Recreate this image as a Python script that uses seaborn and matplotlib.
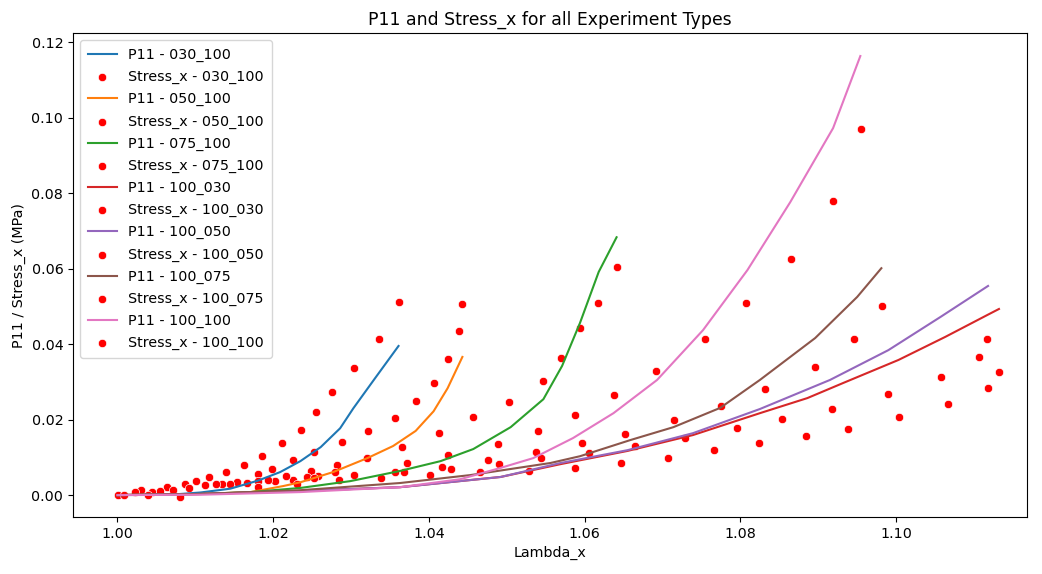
import matplotlib
matplotlib.use("Agg")
import matplotlib.pyplot as plt
import seaborn as sns

experiments = ["030_100", "050_100", "075_100", "100_030", "100_050", "100_075", "100_100"]

# ---- P11 model curves: stretch (Lambda_x) and P11 (MPa) ----
lam_p11_030_100 = [1.0, 1.0068, 1.0107, 1.0145, 1.0180, 1.0209, 1.0235, 1.0261, 1.0286, 1.0303, 1.0331, 1.0361]
p11_030_100 = [0.0, 0.0001, 0.0007, 0.0017, 0.0038, 0.0061, 0.0090, 0.0127, 0.0177, 0.0230, 0.0310, 0.0395]

lam_p11_050_100 = [1.0, 1.0107, 1.0171, 1.0213, 1.0235, 1.0277, 1.0321, 1.0354, 1.0383, 1.0406, 1.0424, 1.0443]
p11_050_100 = [0.0, 0.0003, 0.0008, 0.0024, 0.0034, 0.0061, 0.0098, 0.0130, 0.0170, 0.0222, 0.0283, 0.0366]

lam_p11_075_100 = [1.0, 1.0107, 1.0171, 1.0235, 1.0299, 1.0363, 1.0415, 1.0457, 1.0505, 1.0547, 1.0571, 1.0594, 1.0618, 1.0641]
p11_075_100 = [0.0, 0.0003, 0.0008, 0.0019, 0.0037, 0.0064, 0.0090, 0.0122, 0.0180, 0.0254, 0.0342, 0.0456, 0.0591, 0.0683]

lam_p11_100_030 = [1.0, 1.0107, 1.0235, 1.0363, 1.0492, 1.0569, 1.0655, 1.0739, 1.0825, 1.0886, 1.0932, 1.1003, 1.1063, 1.1117, 1.1132]
p11_100_030 = [0.0, 0.0003, 0.0011, 0.0021, 0.0048, 0.0082, 0.0117, 0.0159, 0.0217, 0.0257, 0.0297, 0.0358, 0.0419, 0.0477, 0.0493]

lam_p11_100_050 = [1.0, 1.0107, 1.0235, 1.0363, 1.0492, 1.0569, 1.0655, 1.0739, 1.0825, 1.0915, 1.0990, 1.1057, 1.1118]
p11_100_050 = [0.0, 0.0003, 0.0011, 0.0021, 0.0048, 0.0085, 0.0119, 0.0164, 0.0228, 0.0305, 0.0384, 0.0472, 0.0554]

lam_p11_100_075 = [1.0, 1.0107, 1.0235, 1.0363, 1.0453, 1.0556, 1.0594, 1.0659, 1.0714, 1.0774, 1.0825, 1.0896, 1.0950, 1.0981]
p11_100_075 = [0.0, 0.0003, 0.0013, 0.0032, 0.0053, 0.0085, 0.0103, 0.0146, 0.0180, 0.0231, 0.0305, 0.0416, 0.0525, 0.0601]

lam_p11_100_100 = [1.0, 1.0107, 1.0235, 1.0363, 1.0440, 1.0492, 1.0534, 1.0585, 1.0637, 1.0693, 1.0752, 1.0809, 1.0864, 1.0919, 1.0954]
p11_100_100 = [0.0, 0.0001, 0.0008, 0.0021, 0.0042, 0.0072, 0.0098, 0.0151, 0.0217, 0.0305, 0.0437, 0.0596, 0.0776, 0.0972, 0.1163]

# ---- Measured stress: stretch (Lambda_x) and Stress_x (MPa) ----
lam_sx_030_100 = [1.0001, 1.0030, 1.0064, 1.0087, 1.0101, 1.0117, 1.0140, 1.0163, 1.0180, 1.0186, 1.0199, 1.0212,
                  1.0225, 1.0236, 1.0252, 1.0255, 1.0275, 1.0288, 1.0304, 1.0322, 1.0336, 1.0356, 1.0361]
sx_030_100 = [0.0000, 0.0013, 0.0021, 0.0029, 0.0038, 0.0049, 0.0062, 0.0079, 0.0056, 0.0103, 0.0069, 0.0138,
              0.0093, 0.0172, 0.0114, 0.0220, 0.0273, 0.0140, 0.0336, 0.0170, 0.0413, 0.0204, 0.0511]

lam_sx_050_100 = [1.0008, 1.0045, 1.0072, 1.0113, 1.0134, 1.0154, 1.0181, 1.0202, 1.0225, 1.0249, 1.0282,
                  1.0321, 1.0366, 1.0372, 1.0384, 1.0406, 1.0413, 1.0424, 1.0425, 1.0439, 1.0443]
sx_050_100 = [0.0000, 0.0007, 0.0013, 0.0026, 0.0029, 0.0034, 0.0037, 0.0038, 0.0040, 0.0064, 0.0079,
              0.0098, 0.0127, 0.0085, 0.0249, 0.0297, 0.0164, 0.0106, 0.0360, 0.0434, 0.0506]

lam_sx_075_100 = [1.0022, 1.0055, 1.0092, 1.0127, 1.0166, 1.0193, 1.0216, 1.0244, 1.0258, 1.0284, 1.0357, 1.0368,
                  1.0417, 1.0429, 1.0456, 1.0476, 1.0489, 1.0503, 1.0537, 1.0540, 1.0547, 1.0569, 1.0588, 1.0594,
                  1.0596, 1.0606, 1.0617, 1.0638, 1.0641]
sx_075_100 = [0.0008, 0.0012, 0.0019, 0.0030, 0.0032, 0.0040, 0.0050, 0.0048, 0.0050, 0.0040, 0.0062, 0.0061,
              0.0074, 0.0069, 0.0207, 0.0093, 0.0135, 0.0246, 0.0114, 0.0170, 0.0302, 0.0363, 0.0212, 0.0442,
              0.0138, 0.0111, 0.0509, 0.0265, 0.0604]

lam_sx_100_030 = [1.0588, 1.0824, 1.0938, 1.1004, 1.1067, 1.1107, 1.1132]
sx_100_030 = [0.0072, 0.0138, 0.0175, 0.0207, 0.0241, 0.0366, 0.0326]

lam_sx_100_050 = [1.0231, 1.0304, 1.0665, 1.0729, 1.0796, 1.0854, 1.0917, 1.0990, 1.1058, 1.1117, 1.1118]
sx_100_050 = [0.0029, 0.0054, 0.0130, 0.0151, 0.0177, 0.0201, 0.0228, 0.0268, 0.0313, 0.0413, 0.0283]

lam_sx_100_075 = [1.0081, 1.0181, 1.0279, 1.0402, 1.0529, 1.0652, 1.0715, 1.0766, 1.0775, 1.0832, 1.0884,
                  1.0896, 1.0946, 1.0982]
sx_100_075 = [-0.0005, 0.0021, 0.0060, 0.0053, 0.0064, 0.0162, 0.0199, 0.0119, 0.0236, 0.0281, 0.0156,
              0.0339, 0.0413, 0.0501]

lam_sx_100_100 = [1.0039, 1.0145, 1.0252, 1.0338, 1.0465, 1.0490, 1.0544, 1.0647, 1.0691, 1.0707, 1.0754,
                  1.0807, 1.0865, 1.0919, 1.0955]
sx_100_100 = [0.0001, 0.0029, 0.0045, 0.0046, 0.0061, 0.0082, 0.0098, 0.0085, 0.0328, 0.0098, 0.0413,
              0.0509, 0.0625, 0.0779, 0.0970]

model_curves = [
    (lam_p11_030_100, p11_030_100), (lam_p11_050_100, p11_050_100), (lam_p11_075_100, p11_075_100),
    (lam_p11_100_030, p11_100_030), (lam_p11_100_050, p11_100_050), (lam_p11_100_075, p11_100_075),
    (lam_p11_100_100, p11_100_100),
]
measurements = [
    (lam_sx_030_100, sx_030_100), (lam_sx_050_100, sx_050_100), (lam_sx_075_100, sx_075_100),
    (lam_sx_100_030, sx_100_030), (lam_sx_100_050, sx_100_050), (lam_sx_100_075, sx_100_075),
    (lam_sx_100_100, sx_100_100),
]

plt.rcParams["font.size"] = 10.3
palette = sns.color_palette("tab10")

fig = plt.figure(figsize=(10.42, 5.74), dpi=100)
ax = fig.add_axes([73 / 1042, 1 - 517 / 574, (1027 - 73) / 1042, (517 - 33) / 574])

for i, exp in enumerate(experiments):
    lam_m, p11 = model_curves[i]
    lam_s, sx = measurements[i]
    sns.lineplot(x=lam_m, y=p11, ax=ax, color=palette[i], label=f"P11 - {exp}")
    sns.scatterplot(x=lam_s, y=sx, ax=ax, color="red", label=f"Stress_x - {exp}")

ax.set_xlim(0.9943, 1.1168)
ax.set_ylim(-0.0058, 0.1224)
ax.set_title("P11 and Stress_x for all Experiment Types", fontsize=12.4)
ax.set_xlabel("Lambda_x")
ax.set_ylabel("P11 / Stress_x (MPa)")
ax.legend(loc="upper left", labelspacing=0.56, borderpad=0.55)

fig.savefig("out.png", dpi=100)
